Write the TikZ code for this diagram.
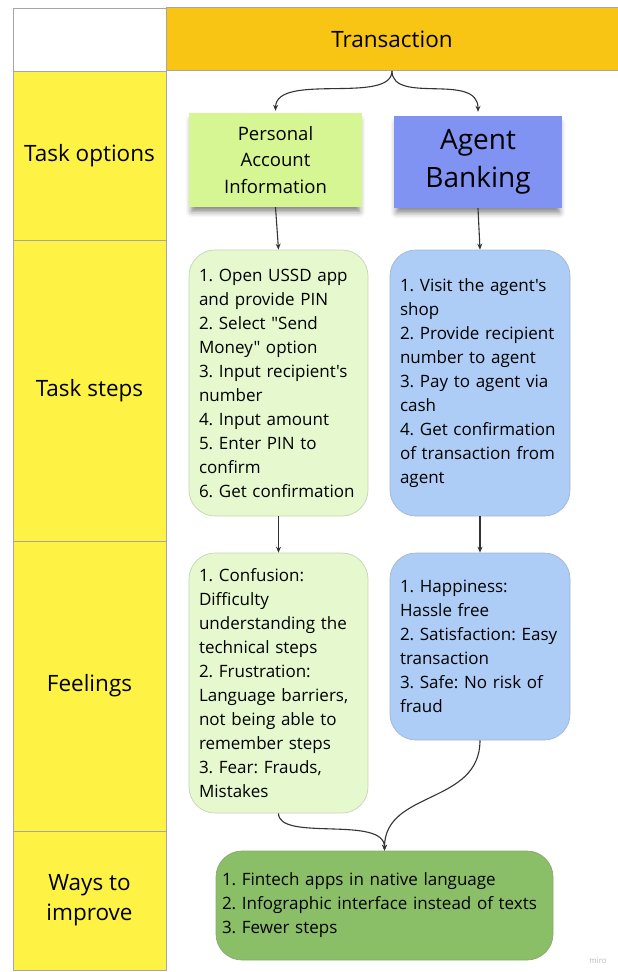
\documentclass[tikz,border=0pt]{standalone}
\usepackage{fontspec}
\setmainfont{Open Sans}[Ligatures=TeXOff]
\usetikzlibrary{arrows.meta,shadows.blur}
\definecolor{header}{RGB}{248,197,20}
\definecolor{lane}{RGB}{254,243,69}
\definecolor{stickygreen}{RGB}{213,246,146}
\definecolor{stickyblue}{RGB}{128,147,243}
\definecolor{paleg}{RGB}{230,248,205}
\definecolor{paleb}{RGB}{174,205,246}
\definecolor{improveg}{RGB}{138,190,103}
\definecolor{edge}{RGB}{51,51,51}
\frenchspacing

\tikzset{
  lanebox/.style={draw=gray!70, line width=0.8pt, fill=lane, inner sep=0pt,
    align=center, font=\fontsize{22.5}{30}\selectfont},
  sticky/.style={fill=#1, inner sep=0pt, align=center,
    blur shadow={shadow xshift=0pt, shadow yshift=-6pt, shadow blur radius=6pt,
      shadow opacity=50, shadow scale=0.97}},
  card/.style={fill=#1, draw=#1!70!gray, line width=0.7pt, rounded corners=26pt,
    inner xsep=10pt, inner ysep=0pt, align=left,
    font=\fontsize{17}{24}\selectfont},
  flow/.style={draw=edge, line width=1.1pt, -{Stealth[length=6pt,width=5pt]}}
}

\begin{document}
\begin{tikzpicture}[x=1pt,y=-1pt]
\useasboundingbox (0,0) rectangle (618,972);

% header row
\draw[gray!70, line width=0.8pt, fill=white] (13,8) rectangle (166,71);
\node[draw=gray!70, line width=0.8pt, fill=header, minimum width=452pt,
  minimum height=63pt, inner sep=0pt, font=\fontsize{22.5}{27}\selectfont]
  (trans) at (392,39) {Transaction};

% lanes
\node[lanebox, minimum width=153pt, minimum height=169pt] (lblopt) at (89.5,155.5) {Task options};
\node[lanebox, minimum width=153pt, minimum height=301pt] (lblsteps) at (89.5,390.5) {Task steps};
\node[lanebox, minimum width=153pt, minimum height=290pt] (lblfeel) at (89.5,686) {Feelings};
\node[lanebox, minimum width=153pt, minimum height=139pt] (lblimprove) at (89.5,900.5) {Ways to\\improve};

% options
\node[sticky=stickygreen, minimum width=173pt, minimum height=94pt,
  font=\fontsize{18.5}{26.5}\selectfont] (optpai) at (275.5,160)
  {Personal\\Account\\Information};
\node[sticky=stickyblue, minimum width=168pt, minimum height=92pt,
  font=\fontsize{28}{38}\selectfont] (optagent) at (478,162)
  {Agent\\Banking};

% steps
\node[card=paleg, text width=159pt, minimum height=266pt] (steppai) at (278.5,383)
  {1. Open USSD app\\and provide PIN\\2. Select "Send\\Money" option\\3. Input recipient's\\number\\4. Input amount\\5. Enter PIN to\\confirm\\6. Get confirmation};
\node[card=paleb, text width=160pt, minimum height=266pt] (stepagent) at (480,383)
  {1. Visit the agent's\\shop\\2. Provide recipient\\number to agent\\3. Pay to agent via\\cash\\4. Get confirmation\\of transaction from\\agent};

% feelings
\node[card=paleg, text width=159pt, minimum height=260pt] (feelpai) at (278.5,683)
  {1. Confusion:\\Difficulty\\understanding the\\technical steps\\2. Frustration:\\Language barriers,\\not being able to\\remember steps\\3. Fear: Frauds,\\Mistakes};
\node[card=paleb, text width=160pt, minimum height=187pt] (feelagent) at (480,646.5)
  {1. Happiness:\\Hassle free\\2. Satisfaction: Easy\\transaction\\3. Safe: No risk of\\fraud};

% improvements
\node[card=improveg, inner xsep=6pt, text width=325pt, minimum height=109pt] (improve) at (384.5,905.5)
  {1. Fintech apps in native language\\2. Infographic interface instead of texts\\3. Fewer steps};

% connectors
\draw[flow, shorten >=2pt] (trans.south) .. controls (392,105) and (276,72) .. (optpai.north);
\draw[flow, shorten >=4pt] (trans.south) .. controls (392,105) and (478,72) .. (optagent.north);
\draw[flow] (optpai.south) -- (steppai.north);
\draw[flow] (optagent.south) -- (stepagent.north);
\draw[flow] (steppai.south) -- (feelpai.north);
\draw[flow] (stepagent.south) -- (feelagent.north);
\draw[flow] (feelpai.south) .. controls (278.5,842) and (384.5,815) .. (improve.north);
\draw[flow] (feelagent.south) .. controls (480,805) and (384.5,790) .. (improve.north);

\node[text=gray!55, font=\fontsize{8}{9}\selectfont] (brand) at (598,961) {miro};
\end{tikzpicture}
\end{document}
